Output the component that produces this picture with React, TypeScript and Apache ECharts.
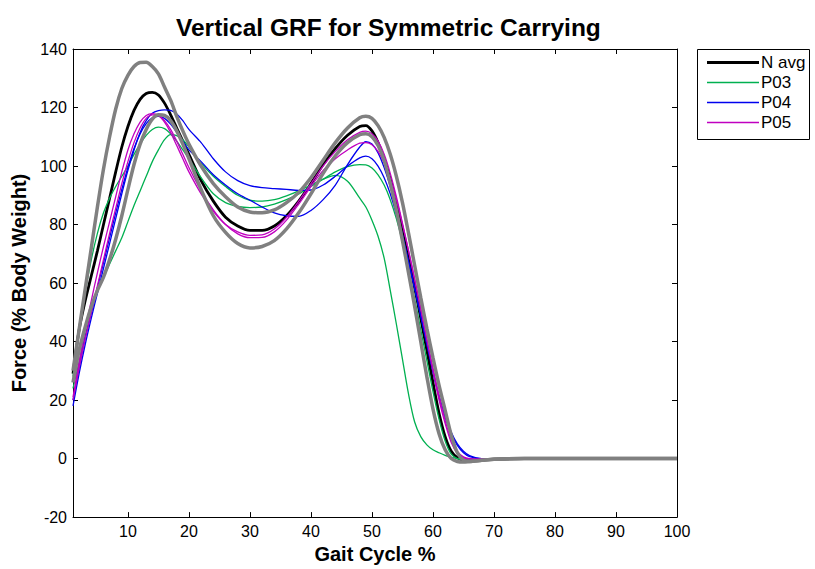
import React, { useEffect, useRef } from 'react';
import * as echarts from 'echarts';

// Gait cycle sample positions (%)
const xs = [1, 2, 3, 4, 5, 6, 7, 8, 9, 10, 11, 12, 13, 14, 15, 16, 17, 18, 19, 20, 22, 24, 26, 28, 30, 32, 34, 36, 38, 40, 42, 44, 46, 48, 49, 50, 51, 52, 53, 54, 55, 56, 57, 58, 59, 60, 61, 62, 63, 64, 65, 66, 68, 70, 75, 100];

const nAvg = [29, 44, 54, 62.5, 71, 80, 89, 98, 106.5, 113.5, 119, 122.8, 124.8, 125.2, 124.3, 121.5, 117.5, 113, 108.5, 104, 95, 88, 82.5, 79.5, 78, 78, 79.5, 83, 88, 94, 100.5, 106, 110.5, 113.5, 113.8, 112, 108, 102.5, 95.5, 87.5, 78.5, 68.5, 58.5, 48, 37, 26, 15.5, 7.5, 2.5, 0.3, -0.5, -0.7, -0.5, -0.2, 0, 0];
const sdUpper = [30, 44, 58, 72, 86, 99, 110, 119.5, 126.5, 131, 134, 135.4, 135.5, 134, 131.5, 127, 122.5, 117, 112, 107.5, 100, 94, 89.5, 86, 84.3, 84, 85, 87.5, 91, 96, 102, 108, 113, 116.5, 117, 116.3, 113.8, 109.8, 104, 96.5, 87.5, 77, 66, 55, 44.5, 34.5, 25, 16.5, 8, 2, -0.5, -1, -0.6, -0.2, 0, 0];
const sdLower = [26, 37, 45, 52, 57.5, 62, 68, 75, 83, 92, 100.5, 107.5, 112.5, 116, 117.5, 117.3, 115.5, 112, 107.5, 102.5, 92, 83, 77.3, 73.5, 72, 72.5, 74.5, 78.5, 84, 90.5, 97.5, 103.5, 108, 110.7, 111, 110, 107, 102, 94, 85, 74.5, 63.5, 52, 40, 28, 17, 8.5, 3, 0, -1, -1.2, -1, -0.6, -0.2, 0, 0];
const p03a = [28, 44, 57, 68, 77, 84, 89, 93, 96.5, 100, 104, 107.5, 110.5, 112.5, 113.3, 112.8, 111, 108.5, 105.5, 102.5, 96, 90.5, 87.5, 86.2, 85.8, 86, 87, 88.5, 90.5, 93, 95.5, 98, 99.8, 100.5, 100.4, 99.3, 97, 93.5, 88.5, 82, 74, 64.5, 54.5, 44, 33.5, 23, 13.5, 6, 1.5, 0, -0.3, -0.3, -0.2, 0, 0, 0];
const p03b = [24, 33, 42, 50, 57, 62, 66.5, 71, 75.5, 81, 86.5, 91.5, 96.5, 101.5, 105.5, 109, 110.7, 110.4, 109, 106.5, 101, 96.5, 93, 90, 88.3, 88, 88.5, 89.8, 91.5, 93.5, 95.5, 96.8, 94.8, 89, 86, 81.5, 76, 68.5, 57.5, 46, 34, 22, 12.5, 7.5, 4.7, 3, 2, 1.1, 0.4, 0, -0.2, -0.2, -0.1, 0, 0, 0];
const p04a = [18, 29, 39, 48, 56.5, 65, 73.5, 82, 90.5, 98.5, 105.5, 111.5, 115.5, 118, 118.9, 119.2, 119, 117.8, 115.5, 112.5, 108, 102.5, 98, 95, 93.3, 92.6, 92.3, 92, 91.7, 91.8, 93.5, 96.5, 100, 102.8, 103.4, 102.5, 100, 96, 90.5, 83.5, 75.5, 67, 58, 48.5, 39, 29.5, 21, 14, 8.5, 4.5, 2, 0.7, 0, 0, 0, 0];
const p04b = [20, 31, 41, 50, 58.5, 67, 75.5, 84, 92, 99.5, 106, 111, 114.5, 116.5, 117, 116.3, 114.3, 111.5, 108.5, 105.5, 101.5, 97, 93.5, 90.5, 88.3, 86, 84, 83, 82.8, 84.8, 88.5, 93.5, 100.5, 106.5, 108.3, 107.5, 104.5, 99.5, 93, 85, 76.5, 67.5, 58.5, 49, 39.5, 30, 21.5, 14.5, 9, 5, 2.5, 1, 0, 0, 0, 0];
const p05a = [21, 33, 44, 54, 63.5, 72.5, 81, 89.5, 98, 105.5, 111, 115, 117.3, 117.9, 117.3, 115, 111.5, 107, 102.5, 98, 90.5, 84.5, 80, 77.5, 76.3, 76.5, 78.5, 82.5, 88, 94, 100, 105, 109, 111.5, 111.9, 111, 108.5, 104, 97.5, 89.5, 80.5, 71, 61, 51, 40.5, 30, 20, 12, 5.5, 1.8, 0.3, -0.2, -0.2, 0, 0, 0];
const p05b = [20, 31, 41, 50, 59, 68, 77, 85.5, 94, 101.5, 108, 113, 116.3, 117.5, 117.3, 115.5, 112.5, 108.5, 104, 99.5, 91.5, 85, 80, 76.8, 75.5, 75.6, 77.5, 81.5, 87, 93, 98.5, 102.5, 105.5, 107.8, 108, 107.3, 105, 101, 95.5, 88.5, 80, 71, 61.5, 51.5, 41, 31, 21.5, 13, 6.5, 2.5, 0.6, 0, -0.2, 0, 0, 0];

const xTicks = [10, 20, 30, 40, 50, 60, 70, 80, 90, 100];
const legendNames = ['N avg', 'P03', 'P04', 'P05'];

const FONT = "'Liberation Sans', Arial, Helvetica, sans-serif";
const GREEN = '#00b050';
const BLUE = '#0000ee';
const MAGENTA = '#c000c0';
const GRAY = '#808080';
const legendColors = ['#000', GREEN, BLUE, MAGENTA];
const legendWidths = [3, 1.3, 1.3, 1.3];

function pairs(vals: number[]) {
  return xs.map((x, i) => [x, vals[i]]);
}

function line(name: string, vals: number[], color: string, width: number) {
  return {
    name,
    type: 'line',
    data: pairs(vals),
    smooth: 0.3,
    symbol: 'none',
    showSymbol: false,
    lineStyle: { color, width },
    itemStyle: { color },
    emphasis: { disabled: true },
  };
}

export default function App() {
  const ref = useRef<HTMLDivElement>(null);
  useEffect(() => {
    const chart = echarts.init(ref.current as HTMLDivElement, null, { renderer: 'svg' });
    const tickStyle = { inside: true, length: 5, lineStyle: { color: '#000', width: 1 } };
    const axisLine = { show: true, onZero: false, lineStyle: { color: '#000', width: 1 } };

    // Legend box (drawn as graphic elements to match the line-only key)
    const legendLeft = 697;
    const legendTop = 49;
    const legendGraphics: any[] = [
      {
        type: 'rect',
        shape: { x: legendLeft + 0.5, y: legendTop + 0.5, width: 112, height: 90 },
        style: { fill: '#fff', stroke: '#000', lineWidth: 1 },
        z: 100,
      },
    ];
    legendNames.forEach((name, i) => {
      const cy = legendTop + 13.5 + i * 20;
      legendGraphics.push({
        type: 'line',
        shape: { x1: legendLeft + 10, y1: cy, x2: legendLeft + 62, y2: cy },
        style: { stroke: legendColors[i], lineWidth: legendWidths[i] },
        z: 101,
      });
      legendGraphics.push({
        type: 'text',
        x: legendLeft + 64,
        y: cy,
        style: {
          text: name,
          fontFamily: FONT,
          fontSize: 17,
          fill: '#000',
          align: 'left',
          verticalAlign: 'middle',
        },
        z: 101,
      });
    });

    const option = {
      animation: false,
      backgroundColor: '#fff',
      textStyle: { fontFamily: FONT },
      title: {
        text: 'Vertical GRF for Symmetric Carrying',
        left: 171,
        top: 10,
        textStyle: { fontFamily: FONT, fontWeight: 'bold', fontSize: 24.5, color: '#000' },
      },
      grid: { left: 73, right: 138, top: 49, bottom: 51, containLabel: false },
      xAxis: [
        {
          type: 'value',
          min: 1,
          max: 100,
          position: 'bottom',
          name: 'Gait Cycle %',
          nameLocation: 'middle',
          nameGap: 24,
          nameTextStyle: { fontFamily: FONT, fontWeight: 'bold', fontSize: 20, color: '#000' },
          axisLine,
          axisTick: { ...tickStyle, customValues: xTicks },
          axisLabel: { customValues: xTicks, fontFamily: FONT, fontSize: 16, color: '#000', margin: 6 },
          splitLine: { show: false },
        },
        {
          type: 'value',
          min: 1,
          max: 100,
          position: 'top',
          axisLine,
          axisTick: { ...tickStyle, customValues: xTicks },
          axisLabel: { show: false },
          splitLine: { show: false },
        },
      ],
      yAxis: [
        {
          type: 'value',
          min: -20,
          max: 140,
          interval: 20,
          position: 'left',
          name: 'Force (% Body Weight)',
          nameLocation: 'middle',
          nameGap: 41,
          nameTextStyle: { fontFamily: FONT, fontWeight: 'bold', fontSize: 20, color: '#000' },
          axisLine,
          axisTick: tickStyle,
          axisLabel: { fontFamily: FONT, fontSize: 16, color: '#000', margin: 6 },
          splitLine: { show: false },
        },
        {
          type: 'value',
          min: -20,
          max: 140,
          interval: 20,
          position: 'right',
          axisLine,
          axisTick: tickStyle,
          axisLabel: { show: false },
          splitLine: { show: false },
        },
      ],
      graphic: legendGraphics,
      series: [
        line('N avg', nAvg, '#000', 2.8),
        line('P03', p03a, GREEN, 1.3),
        line('P03', p03b, GREEN, 1.3),
        line('P04', p04a, BLUE, 1.3),
        line('P04', p04b, BLUE, 1.3),
        line('P05', p05a, MAGENTA, 1.3),
        line('P05', p05b, MAGENTA, 1.3),
        line('Mean + SD', sdUpper, GRAY, 3.5),
        line('Mean - SD', sdLower, GRAY, 3.5),
      ],
    };
    chart.setOption(option as any);
    return () => chart.dispose();
  }, []);
  return (
    <div
      ref={ref}
      style={{ position: 'fixed', left: 0, top: 0, width: 815, height: 569, background: '#fff' }}
    />
  );
}
